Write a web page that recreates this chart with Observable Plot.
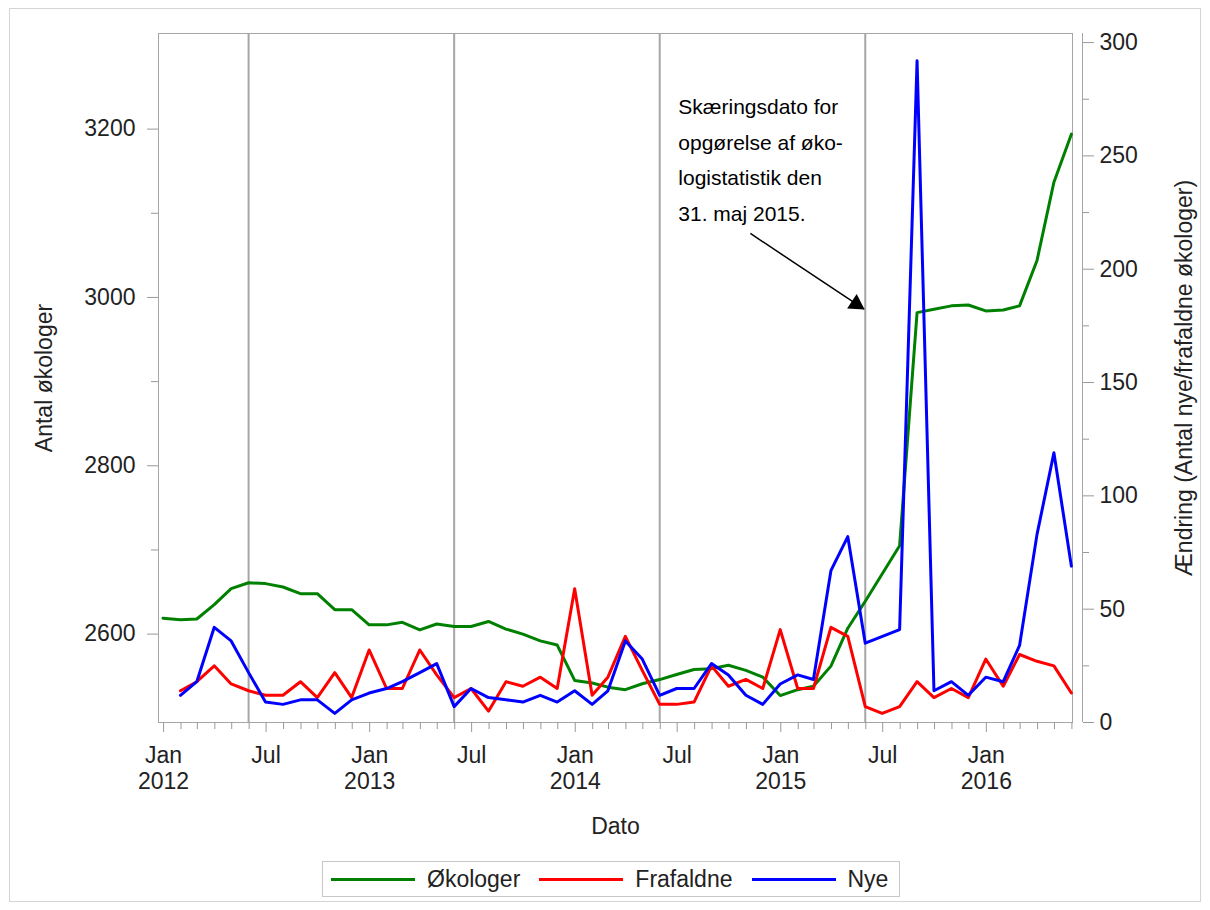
<!DOCTYPE html>
<html><head><meta charset="utf-8">
<script src="https://cdn.jsdelivr.net/npm/d3@7"></script>
<script src="https://cdn.jsdelivr.net/npm/@observablehq/plot@0.6"></script>
<style>
body{margin:0;background:#fff;font-family:"Liberation Sans",Arial,sans-serif;}
#wrap{position:relative;width:1210px;height:910px;overflow:hidden;background:#fff}
#border{position:absolute;left:9px;top:8px;width:1190px;height:892px;border:1px solid #d4d4d4}
#chart{position:absolute;left:0;top:0}
#legend{position:absolute;left:322px;top:861px;height:34px;display:flex;align-items:center;border:1px solid #c8c8c8;padding:0 11px 0 8px;font-size:23px;color:#222;background:#fff;white-space:nowrap}
.sw{width:84px;height:3px;margin-right:12px}
.lab{margin-right:19px}
.lab:last-child{margin-right:0}
</style></head>
<body><div id="wrap"><div id="border"></div><div id="chart"></div><div id="legend"></div></div>
<script>
// ---- data (month-end values, Dec 2011 .. May 2016) ----
const periodStart = "2012-01-01", periodEnd = "2016-07-01";
const okologer = [2619, 2617, 2618, 2635, 2654, 2661, 2660, 2656, 2648, 2648, 2629, 2629, 2611, 2611, 2614, 2605, 2612, 2609, 2609, 2615, 2606, 2600, 2592, 2587, 2545, 2542, 2537, 2534, 2541, 2546, 2552, 2558, 2559, 2563, 2557, 2549, 2527, 2534, 2538, 2562, 2607, 2639, null, 2705, 2982, 2986, 2990, 2991, 2984, 2985, 2990, 3044, 3137, 3194];
const frafaldne = [null, 14, 18, 25, 17, 14, 12, 12, 18, 11, 22, 11, 32, 15, 15, 32, 21, 11, 15, 5, 18, 16, 20, 15, 59, 12, 20, 38, 23, 8, 8, 9, 25, 16, 19, 15, 41, 15, 15, 42, 38, 7, 4, 7, 18, 11, 15, 11, 28, 16, 30, 27, 25, 13];
const nye = [null, 12, 18, 42, 36, 22, 9, 8, 10, 10, 4, 10, 13, 15, 18, 22, 26, 7, 15, 11, 10, 9, 12, 9, 14, 8, 14, 36, 28, 12, 15, 15, 26, 21, 12, 8, 17, 21, 19, 67, 82, 35, null, 41, 292, 14, 18, 12, 20, 18, 34, 83, 119, 69];
const seriesNames = ["Økologer", "Frafaldne", "Nye"];
const seriesColors = ["#008000", "#ff0000", "#0000ff"];
const cutoffDates = ["2012-05-31", "2013-05-31", "2014-05-31", "2015-05-31"];
const leftTicks = [2600, 2800, 3000, 3200];
const leftMinor = [2700, 2900, 3100];
const rightTicks = [0, 50, 100, 150, 200, 250, 300];
const rightMinor = [25, 75, 125, 175, 225, 275];
const xMonthLabels = ["Jan", "Jul"];
const axisTitles = {x: "Dato", left: "Antal økologer", right: "Ændring (Antal nye/frafaldne økologer)"};
const annotationText = "Skæringsdato for\nopgørelse af øko-\nlogistatistik den\n31. maj 2015.";

// ---- scales ----
const xDomain = [new Date("2011-12-23"), new Date("2016-06-02")];
const leftDomain = [2495, 3313.6];
const rightDomain = [0, 304];
const k = (leftDomain[1] - leftDomain[0]) / (rightDomain[1] - rightDomain[0]);
const toLeft = r => leftDomain[0] + (r - rightDomain[0]) * k;
const toRight = v => (v - leftDomain[0]) / k + rightDomain[0];

const dates = d3.utcMonth.range(new Date(periodStart), new Date(periodEnd)).map(d => d3.utcDay.offset(d, -1));
const rows = dates.map((date, i) => ({date, ok: okologer[i], fra: frafaldne[i], nye: nye[i]}));

const monthTicks = d3.utcMonth.range(new Date("2012-01-01"), xDomain[1]);
const majorX = monthTicks.filter(d => d.getUTCMonth() === 0 || d.getUTCMonth() === 6);
const minorX = monthTicks.filter(d => !(d.getUTCMonth() === 0 || d.getUTCMonth() === 6));

const annot = {tx: new Date("2014-07-03"), ty: 3248,
  x1: new Date("2014-11-08"), y1: 3076, x2: new Date("2015-05-29"), y2: 2986};

const gray = "#a6a6a6", ink = "#222";

const chart = Plot.plot({
  width: 1210, height: 850,
  marginLeft: 158, marginRight: 138, marginTop: 33, marginBottom: 128,
  style: {fontFamily: '"Liberation Sans", Arial, sans-serif', fontSize: "23px", background: "transparent", overflow: "visible"},
  x: {type: "utc", domain: xDomain},
  y: {domain: leftDomain},
  marks: [
    Plot.frame({stroke: gray}),
    Plot.ruleX(cutoffDates.map(s => new Date(s)), {stroke: gray, strokeWidth: 2}),
    Plot.line(rows.filter(d => d.ok != null), {x: "date", y: "ok", stroke: seriesColors[0], strokeWidth: 3}),
    Plot.line(rows.filter(d => d.fra != null), {x: "date", y: d => toLeft(d.fra), stroke: seriesColors[1], strokeWidth: 3}),
    Plot.line(rows.filter(d => d.nye != null), {x: "date", y: d => toLeft(d.nye), stroke: seriesColors[2], strokeWidth: 3}),
    // x axis
    Plot.axisX({ticks: minorX, tickSize: 7, tickFormat: () => "", label: null, stroke: "#999"}),
    Plot.axisX({ticks: majorX, tickSize: 10, tickPadding: 12, lineHeight: 1.12, label: null, stroke: "#999", fill: ink, fontSize: 23,
      tickFormat: d => d.getUTCMonth() === 0 ? `${xMonthLabels[0]}\n${d.getUTCFullYear()}` : xMonthLabels[1]}),
    // left axis
    Plot.axisY({ticks: leftTicks, tickSize: 11, tickPadding: 12, tickFormat: d => String(d), label: null, stroke: "#999", fill: ink, fontSize: 23}),
    Plot.axisY({ticks: leftMinor, tickSize: 7, tickFormat: () => "", label: null, stroke: "#999"}),
    // right axis
    Plot.ruleX([xDomain[1]], {dx: 10, stroke: gray}),
    Plot.axisY({anchor: "right", ticks: rightTicks.map(toLeft), tickSize: 11, tickPadding: 6, dx: 10, label: null, stroke: "#999", fill: ink, fontSize: 23,
      tickFormat: v => String(Math.round(toRight(v)))}),
    Plot.axisY({anchor: "right", ticks: rightMinor.map(toLeft), tickSize: 6, dx: 10, tickFormat: () => "", label: null, stroke: "#999"}),
    // axis titles
    Plot.text([axisTitles.left], {text: d => d, frameAnchor: "left", dx: -114, rotate: -90, textAnchor: "middle", lineAnchor: "middle", fontSize: 23, fill: ink}),
    Plot.text([axisTitles.right], {text: d => d, frameAnchor: "right", dx: 112, rotate: -90, textAnchor: "middle", lineAnchor: "middle", fontSize: 23, fill: ink}),
    Plot.text([axisTitles.x], {text: d => d, frameAnchor: "bottom", dy: 104, textAnchor: "middle", lineAnchor: "middle", fontSize: 23, fill: ink}),
    // annotation
    Plot.text([annot], {x: "tx", y: "ty", text: () => annotationText, textAnchor: "start", lineAnchor: "top", lineHeight: 1.70, fontSize: 21, fill: "#000"}),
    Plot.link([annot], {x1: "x1", y1: "y1", x2: "x2", y2: "y2", stroke: "#000", strokeWidth: 1.5}),
    Plot.dot([annot], {x: "x2", y: "y2", symbol: "triangle", r: 6.5, fill: "#000", stroke: "none", rotate: 123.2, dx: -8, dy: -5.2})
  ]
});
document.getElementById("chart").appendChild(chart);

const legend = document.getElementById("legend");
seriesNames.forEach((name, i) => {
  const sw = document.createElement("div");
  sw.className = "sw"; sw.style.background = seriesColors[i];
  const lab = document.createElement("span");
  lab.className = "lab"; lab.textContent = name;
  legend.appendChild(sw); legend.appendChild(lab);
});
</script>
</body></html>
